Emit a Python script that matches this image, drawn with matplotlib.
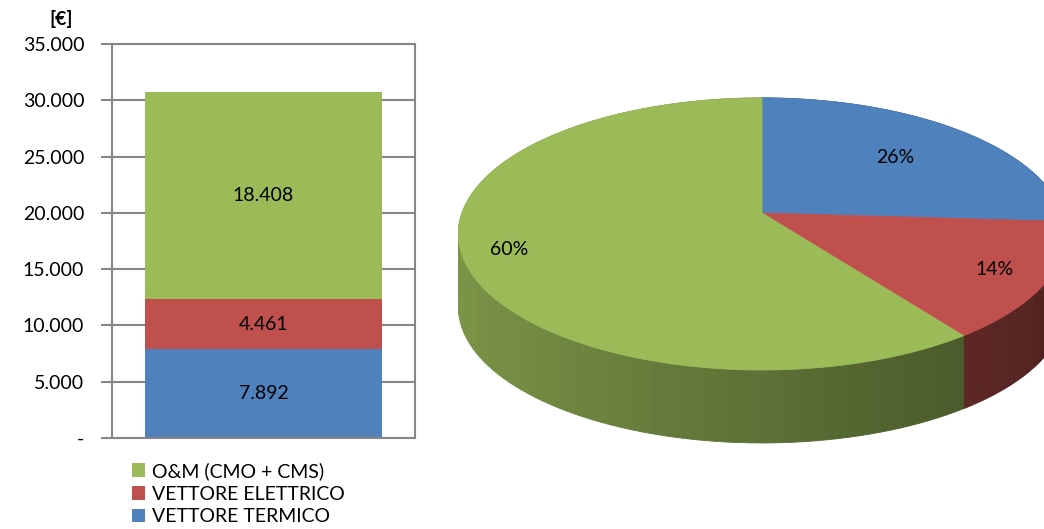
import matplotlib.pyplot as plt
import matplotlib.ticker as mticker
import numpy as np

plt.rcParams['font.family'] = ['Lato', 'DejaVu Sans']

# dati barra impilata (dal basso verso l'alto)
voci = ['VETTORE TERMICO', 'VETTORE ELETTRICO', 'O&M (CMO + CMS)']
valori = [7892, 4461, 18408]
colori = ['#4F81BD', '#C0504D', '#9BBB59']

# dati torta (percentuali), in senso orario da ore 12
torta_voci = ['VETTORE TERMICO', 'VETTORE ELETTRICO', 'O&M (CMO + CMS)']
torta_perc = [26, 14, 60]
torta_col = ['#4F81BD', '#C0504D', '#9BBB59']


def fmt_it(v, pos=None):
    if v == 0:
        return '-'
    return f"{int(round(v)):,}".replace(',', '.')


fig = plt.figure(figsize=(10.44, 5.29), dpi=100)

# ---- grafico a barre ----
ax = fig.add_axes([112 / 1044, 1 - 438 / 529, 303 / 1044, 394 / 529])
base = 0
for nome, v, c in zip(voci, valori, colori):
    ax.bar(0, v, bottom=base, width=0.78, color=c, label=nome, zorder=2)
    ax.text(0, base + v / 2, fmt_it(v), ha='center', va='center',
            fontsize=14, color='black', zorder=3)
    base += v

ax.set_xlim(-0.5, 0.5)
ax.set_ylim(0, 35000)
ax.yaxis.set_major_locator(mticker.MultipleLocator(5000))
ax.yaxis.set_major_formatter(mticker.FuncFormatter(fmt_it))
ax.set_xticks([])
ax.grid(axis='y', color='#868686', linewidth=1.5, zorder=0)
for s in ax.spines.values():
    s.set_color('#868686')
    s.set_linewidth(1.5)
ax.tick_params(axis='y', length=8, width=1.5, color='#868686',
               labelsize=14, pad=12)

fig.text(61 / 1044, 1 - 19 / 529, '[€]', ha='center', va='center',
         fontsize=14, fontweight='bold')

h, l = ax.get_legend_handles_labels()
fig.legend(h[::-1], l[::-1], loc='upper left',
           bbox_to_anchor=(124 / 1044, 1 - 454 / 529), frameon=False,
           fontsize=14, handlelength=0.7, handleheight=0.7,
           handletextpad=0.35, labelspacing=0.3, borderaxespad=0)

# ---- torta 3D ----
ap = fig.add_axes([0, 0, 1, 1])
ap.set_xlim(0, 1044)
ap.set_ylim(529, 0)
ap.axis('off')

cx, cy, rx, ry, k, prof = 762, 213, 300, 132.8, 0.154, 73


def proj(t, r=1.0):
    u, v = r * np.cos(t), r * np.sin(t)
    d = 1 + k * v
    return cx + rx * u / d, cy - ry * v / d


angoli = [np.pi / 2]
for p in torta_perc:
    angoli.append(angoli[-1] - 2 * np.pi * p / 100)

# pareti laterali
segmenti = []
for i, c in enumerate(torta_col):
    ts = np.linspace(angoli[i], angoli[i + 1], 120)
    rgb = np.array(plt.matplotlib.colors.to_rgb(c))
    for a, b in zip(ts[:-1], ts[1:]):
        segmenti.append((np.sin((a + b) / 2), a, b, rgb))
segmenti.sort(key=lambda s: -s[0])
for _, a, b, rgb in segmenti:
    xa, ya = proj(a)
    xb, yb = proj(b)
    tm = (a + b) / 2
    sh = 0.6 - 0.2 * np.cos(tm)
    col = np.clip(rgb * sh, 0, 1)
    ap.fill([xa, xb, xb, xa], [ya, yb, yb + prof, ya + prof],
            color=col, lw=0.6, ec=col)

# faccia superiore
for i, c in enumerate(torta_col):
    ts = np.linspace(angoli[i], angoli[i + 1], 200)
    xs, ys = proj(ts)
    ap.fill(np.r_[cx, xs], np.r_[cy, ys], color=c, ec=c, lw=0.6)

raggi_et = [0.65, 0.83, 0.85]
for i, p in enumerate(torta_perc):
    tm = (angoli[i] + angoli[i + 1]) / 2
    x, y = proj(tm, raggi_et[i])
    ap.text(x, y, f'{p}%', ha='center', va='center', fontsize=14)

fig.savefig('out.png', dpi=100)
